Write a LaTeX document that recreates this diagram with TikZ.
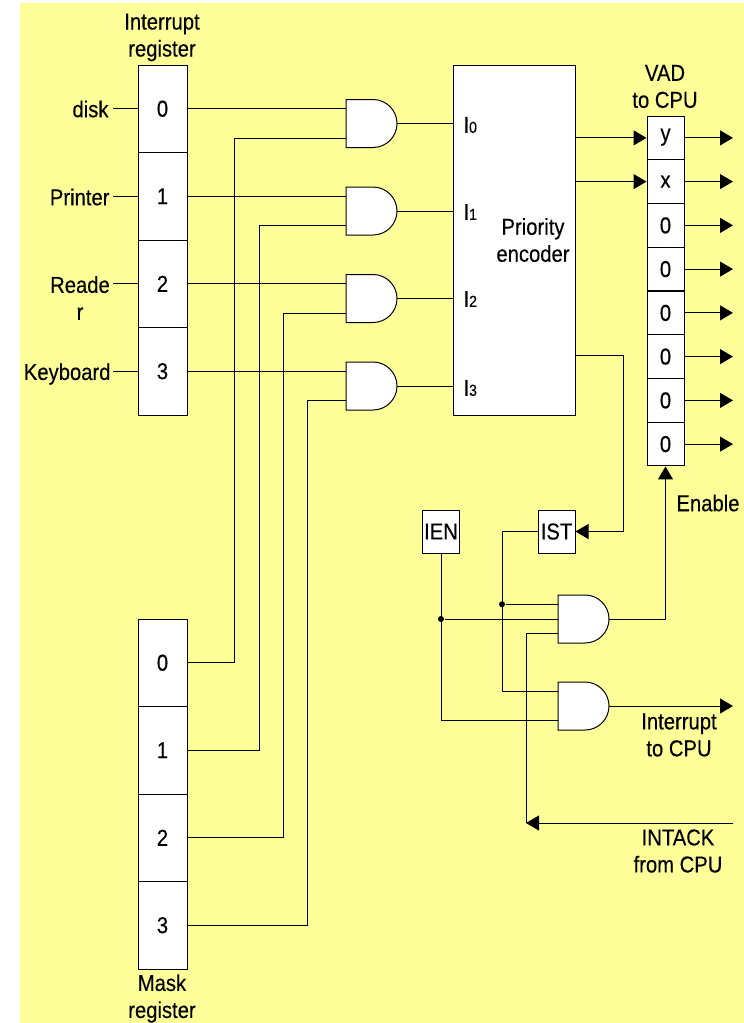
\documentclass[tikz,border=0pt]{standalone}
\usepackage{fontspec}
\setmainfont[FakeStretch=0.88,FakeBold=0.3]{Liberation Sans}
\usetikzlibrary{arrows.meta}
\definecolor{paneyellow}{HTML}{FFFF99}
\tikzset{
    label/.style={align=center, inner sep=0pt, font=\fontsize{23}{27}\selectfont},
    regcell/.style={draw, rectangle, fill=white, inner sep=0pt, minimum width=49pt, minimum height=87.5pt, font=\fontsize{23}{27}\selectfont},
    vadcell/.style={draw, rectangle, fill=white, inner sep=0pt, minimum width=37pt, minimum height=43.75pt, font=\fontsize{23}{27}\selectfont},
    flagbox/.style={draw, rectangle, fill=white, inner sep=0pt, minimum width=37pt, minimum height=43pt, font=\fontsize{23}{27}\selectfont},
    encoder/.style={draw, rectangle, fill=white, align=center, inner sep=0pt, minimum width=122pt, minimum height=350pt, font=\fontsize{23}{27}\selectfont},
    gatebox/.style={rectangle, inner sep=0pt, outer sep=0pt, minimum width=51pt, minimum height=48pt},
    wire/.style={draw, line width=1pt},
    arrow/.style={wire, -{Triangle[length=13pt,width=15pt]}},
    joint/.style={circle, fill=black, inner sep=0pt, minimum size=6pt}
}
\newcommand{\andgate}[2]{%
    \node[gatebox] (#1) at (#2) {};
    \draw[fill=white] (#1.north west) -- ++(27,0) arc[start angle=-90, end angle=90, radius=24] -- (#1.south west) -- cycle;
    \coordinate (#1top) at ([yshift=14.75pt]#1.west);
    \coordinate (#1low) at ([yshift=-14.75pt]#1.west);
}
\begin{document}
\begin{tikzpicture}[x=1pt, y=-1pt, line width=1pt]
    \useasboundingbox (0,0) rectangle (744,1023);
    \fill[paneyellow] (20,3) rectangle (744,1023);

    % -----------------------------------------------------------------
    % REGISTERS
    % -----------------------------------------------------------------
    \foreach \i/\y in {0/108.75, 1/196.25, 2/283.75, 3/371.25} {
        \node[regcell] (int\i) at (162.5,\y) {\i};
    }
    \foreach \i/\y in {0/662.75, 1/750.25, 2/837.75, 3/925.25} {
        \node[regcell] (mask\i) at (162.5,\y) {\i};
    }
    \foreach \i/\t/\y in {0/{\raisebox{-3pt}[0pt][0pt]{y}}/137.9, 1/x/181.6, 2/0/225.4, 3/0/269.1, 4/0/312.9, 5/0/356.6, 6/0/400.4, 7/0/444.1} {
        \node[vadcell] (vad\i) at (665.5,\y) {\t};
        \coordinate (out\i) at (733,\y);
        \draw[arrow] (vad\i.east) -- (out\i);
    }

    \node[label] (intname) at (162,37.5) {Interrupt\\register};
    \node[label] (maskname) at (162,998.5) {Mask\\register};
    \node[label] (vadname) at (665,86.5) {VAD\\to CPU};

    % -----------------------------------------------------------------
    % DEVICES
    % -----------------------------------------------------------------
    \node[label, anchor=east] (disk) at (109,109) {disk};
    \node[label, anchor=east] (printer) at (110,197) {Printer};
    \node[label] (reader) at (80,298) {Reade\\r};
    \node[label, anchor=east] (keyboard) at (111,374) {Keyboard};
    \coordinate (readerend) at (113,283.75);
    \coordinate (diskend) at (113,108.75);
    \coordinate (printerend) at (113,196.25);
    \coordinate (keyboardend) at (113,371.25);
    \draw[wire] (diskend) -- (int0.west);
    \draw[wire] (printerend) -- (int1.west);
    \draw[wire] (readerend) -- (int2.west);
    \draw[wire] (keyboardend) -- (int3.west);

    % -----------------------------------------------------------------
    % ENCODER AND GATES
    % -----------------------------------------------------------------
    \node[encoder] (enc) at (514,240) {};
    \node[label] (encname) at (533,240) {Priority\\encoder};
    \foreach \i/\y/\b/\ly in {0/123.5/234/125, 1/211/259/212, 2/298.5/283/299, 3/386/307/388} {
        \andgate{g\i}{371.5,\y}
        \node[label, anchor=west] (in\i) at (463,\ly) {I{\fontsize{16}{16}\selectfont\i}};
        \coordinate (bus\i) at (\b,0);
        \draw[wire] (int\i.east) -- (g\i top);
        \draw[wire] (mask\i.east) -- (mask\i.east -| bus\i) -- (g\i low -| bus\i) -- (g\i low);
        \draw[wire] (g\i.east) -- (g\i.east -| enc.west);
    }
    \coordinate (yfrom) at (575,137.9);
    \coordinate (xfrom) at (575,181.6);
    \draw[arrow] (yfrom) -- (vad0.west);
    \draw[arrow] (xfrom) -- (vad1.west);

    % -----------------------------------------------------------------
    % CONTROL LOGIC
    % -----------------------------------------------------------------
    \node[flagbox] (ien) at (441,531.5) {IEN};
    \node[flagbox] (ist) at (556.5,531.5) {IST};
    \andgate{ga}{583.5,619}
    \andgate{gb}{583.5,706}
    \node[joint] (jist) at (502,604.25) {};
    \node[joint] (jien) at (441,619) {};
    \coordinate (encout) at (575,355);
    \coordinate (istbus) at (623,0);
    \coordinate (enbus) at (665.5,0);
    \coordinate (intout) at (733,706);
    \coordinate (ackin) at (733,823);
    \coordinate (ackend) at (526,823);

    \draw[arrow] (encout) -- (encout -| istbus) -- (ist.east -| istbus) -- (ist.east);
    \draw[wire] (ist.west) -- (ist.west -| jist) -- (gbtop -| jist) -- (gbtop);
    \draw[wire] (jist) -- (gatop);
    \draw[wire] (ien.south) -- (gblow -| ien) -- (gblow);
    \draw[wire] (jien) -- (ga.west);
    \draw[arrow] (ga.east) -- (ga.east -| enbus) -- (vad7.south);
    \draw[arrow] (gb.east) -- (intout);
    \draw[arrow] (ackin) -- (ackend);
    \draw[wire] (ackend) -- (galow -| ackend) -- (galow);

    \node[label] (enable) at (708,503) {Enable};
    \node[label] (intname2) at (679,735) {Interrupt\\to CPU};
    \node[label] (ackname) at (678,851) {INTACK\\from CPU};
\end{tikzpicture}
\end{document}
